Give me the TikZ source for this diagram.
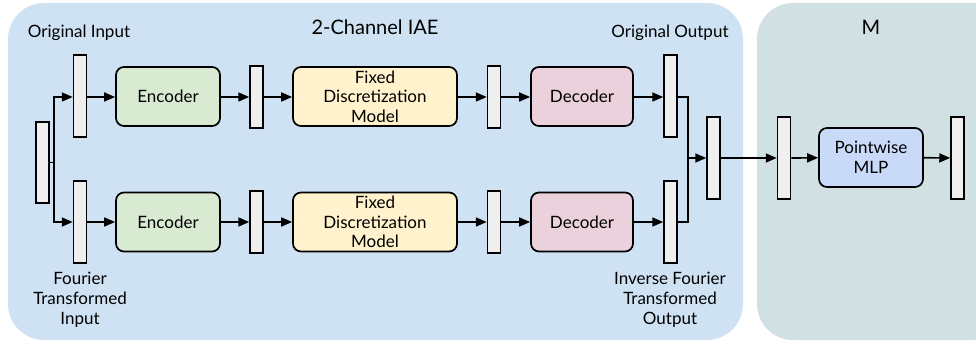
\documentclass[tikz,border=0pt]{standalone}
\usepackage{fontspec}
\setmainfont{Lato}
\usetikzlibrary{arrows.meta,positioning}
\definecolor{panelblue}{HTML}{CFE2F3}
\definecolor{panelgreen}{HTML}{D0E0E3}
\definecolor{encfill}{HTML}{D9EAD3}
\definecolor{fdmfill}{HTML}{FFF2CC}
\definecolor{decfill}{HTML}{EAD1DC}
\definecolor{mlpfill}{HTML}{C9DAF8}
\definecolor{barfill}{HTML}{EFEFEF}
\begin{document}
\begin{tikzpicture}[x=1pt,y=-1pt,
  panel/.style={rounded corners=36pt, draw=none},
  blockbox/.style={draw=black, line width=1.7pt, rounded corners=8pt, minimum height=59pt, align=center, font=\fontsize{17}{19.5}\selectfont, inner sep=1pt},
  bar/.style={draw=black, line width=1.5pt, fill=barfill, minimum width=13pt, inner sep=0pt},
  tall/.style={bar, minimum height=82pt},
  short/.style={bar, minimum height=62pt},
  conn/.style={line width=1.7pt, -{Triangle[length=11pt,width=9pt]}},
  line/.style={line width=1.7pt},
  lbl/.style={font=\fontsize{17}{20}\selectfont, align=center, inner sep=0pt},
  title/.style={font=\fontsize{20}{22}\selectfont, inner sep=0pt}
]
\useasboundingbox (0,0) rectangle (976,344);
\fill[panelblue, panel] (8,3) rectangle (743,340);
\fill[panelgreen, panel] (757,3) rectangle (1010,340);
\fill[white] (976,0) rectangle (1012,344);
\node[title] (t1) at (375,27) {2-Channel IAE};
\node[title] (t2) at (871,27) {M};

\node[bar, minimum height=81pt] (in) at (42.5,162.5) {};
\node[tall] (a1) at (80,96) {};
\node[tall] (b1) at (80,222) {};
\node[blockbox, fill=encfill, minimum width=104pt] (ea) at (168,96.5) {Encoder};
\node[blockbox, fill=encfill, minimum width=104pt] (eb) at (168,222) {Encoder};
\node[short] (a2) at (256.5,97) {};
\node[short] (b2) at (256.5,222) {};
\node[blockbox, fill=fdmfill, minimum width=164pt] (fa) at (375,96.5) {Fixed\\Discretization\\Model};
\node[blockbox, fill=fdmfill, minimum width=164pt] (fb) at (375,222) {Fixed\\Discretization\\Model};
\node[short] (a3) at (494,97) {};
\node[short] (b3) at (494,222) {};
\node[blockbox, fill=decfill, minimum width=102pt] (da) at (582,96.5) {Decoder};
\node[blockbox, fill=decfill, minimum width=102pt] (db) at (582,222) {Decoder};
\node[tall] (a4) at (670.5,96) {};
\node[tall] (b4) at (670.5,222) {};
\node[tall] (mg) at (713.5,158) {};
\node[tall] (m1) at (784,158) {};
\node[blockbox, fill=mlpfill, minimum width=104pt] (mlp) at (871,157.5) {Pointwise\\MLP};
\node[tall] (m2) at (957.5,158) {};

\node[lbl] (l1) at (79,33) {Original Input};
\node[lbl] (l2) at (670,33) {Original Output};
\node[lbl, anchor=north] (l3) at (80,272) {Fourier\\Transformed\\Input};
\node[lbl, anchor=north] (l4) at (670,272) {Inverse Fourier\\Transformed\\Output};

\coordinate (s) at (54,162.5);
\draw[line] (in.east |- s) -- (s);
\draw[conn] (s) |- (a1.west |- 0,97);
\draw[conn] (s) |- (b1.west |- 0,222);
\draw[conn] (a1.east |- 0,97) -- (ea.west |- 0,97);
\draw[conn] (b1) -- (eb);
\draw[conn] (ea.east |- 0,97) -- (a2);
\draw[conn] (eb) -- (b2);
\draw[conn] (a2) -- (fa.west |- a2);
\draw[conn] (b2) -- (fb);
\draw[conn] (fa.east |- a3) -- (a3);
\draw[conn] (fb) -- (b3);
\draw[conn] (a3) -- (da.west |- a3);
\draw[conn] (b3) -- (db);
\draw[conn] (da.east |- 0,97) -- (a4.west |- 0,97);
\draw[conn] (db) -- (b4);
\coordinate (j) at (688,158);
\draw[line] (a4.east |- 0,97) -| (j);
\draw[line] (b4.east |- 0,222) -| (j);
\draw[conn] (j) -- (mg);
\draw[conn] (mg) -- (m1);
\draw[conn] (m1) -- (mlp);
\draw[conn] (mlp) -- (m2);
\end{tikzpicture}
\end{document}
